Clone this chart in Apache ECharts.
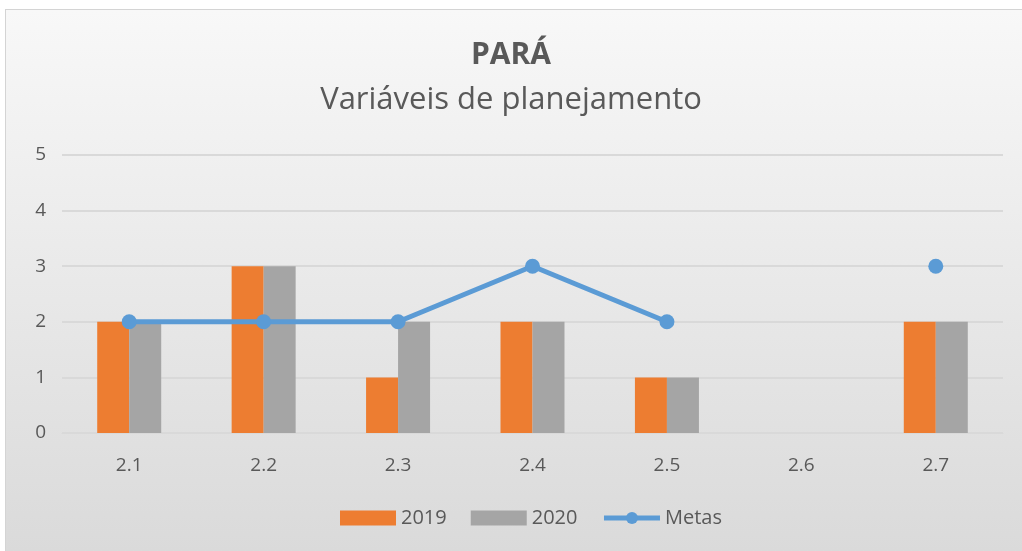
<!DOCTYPE html>
<html>
<head>
<meta charset="utf-8">
<script src="https://cdn.jsdelivr.net/npm/echarts@6/dist/echarts.min.js"></script>
<style>
  html, body { margin: 0; padding: 0; background: #fff; }
  #frame {
    position: absolute; left: 5px; top: 9px; width: 1030px; height: 560px;
    border: 1px solid #d4d4d4;
    background: linear-gradient(#f8f8f8, #d9d9d9);
  }
  #chart { position: absolute; left: 0; top: 0; width: 1022px; height: 551px; }
</style>
</head>
<body>
<div id="frame"></div>
<div id="chart"></div>
<script>
  // dados
  const categorias = ['2.1', '2.2', '2.3', '2.4', '2.5', '2.6', '2.7'];
  const valores2019 = [2, 3, 1, 2, 1, null, 2];
  const valores2020 = [2, 3, 2, 2, 1, null, 2];
  const metas = [2, 2, 2, 3, 2, null, 3];

  const fonte = '"Open Sans", "Noto Sans", sans-serif';
  const cinzaTexto = '#595959';

  const chart = echarts.init(document.getElementById('chart'));
  chart.setOption({
    backgroundColor: 'transparent',
    textStyle: { fontFamily: fonte },
    title: [
      {
        text: 'PARÁ',
        left: 'center',
        top: 35,
        textStyle: { fontSize: 30, fontWeight: 'bold', color: cinzaTexto, fontFamily: fonte }
      },
      {
        text: 'Variáveis de planejamento',
        left: 'center',
        top: 80,
        textStyle: { fontSize: 31, fontWeight: 'normal', color: cinzaTexto, fontFamily: fonte }
      }
    ],
    legend: {
      bottom: 18,
      left: 335,
      itemGap: 24,
      textStyle: { fontSize: 20, color: cinzaTexto, fontFamily: fonte },
      data: [
        { name: '2019', icon: 'rect', itemWidth: 51, itemHeight: 12 },
        { name: '2020', icon: 'rect', itemWidth: 51, itemHeight: 12 },
        { name: 'Metas', lineStyle: { width: 5 } }
      ],
      itemWidth: 56,
      itemHeight: 15
    },
    grid: { left: 62, right: 19, top: 155, bottom: 118 },
    xAxis: {
      type: 'category',
      data: categorias,
      axisLine: { lineStyle: { color: '#d9d9d9', width: 1 } },
      axisTick: { show: false },
      axisLabel: { fontSize: 19, color: cinzaTexto, margin: 23, fontFamily: fonte }
    },
    yAxis: {
      type: 'value',
      min: 0,
      max: 5,
      interval: 1,
      axisLine: { show: false },
      axisTick: { show: false },
      axisLabel: { fontSize: 19, color: cinzaTexto, margin: 16, fontFamily: fonte },
      splitLine: { lineStyle: { color: '#d9d9d9', width: 2 } }
    },
    series: [
      {
        name: '2019',
        type: 'bar',
        data: valores2019,
        barWidth: 32,
        barGap: '0%',
        itemStyle: { color: '#ed7d31' }
      },
      {
        name: '2020',
        type: 'bar',
        data: valores2020,
        barWidth: 32,
        itemStyle: { color: '#a5a5a5' }
      },
      {
        name: 'Metas',
        type: 'line',
        data: metas,
        connectNulls: false,
        symbol: 'circle',
        symbolSize: 15,
        showSymbol: true,
        lineStyle: { color: '#5b9bd5', width: 5 },
        itemStyle: { color: '#5b9bd5' },
        z: 5
      }
    ]
  });
</script>
</body>
</html>
